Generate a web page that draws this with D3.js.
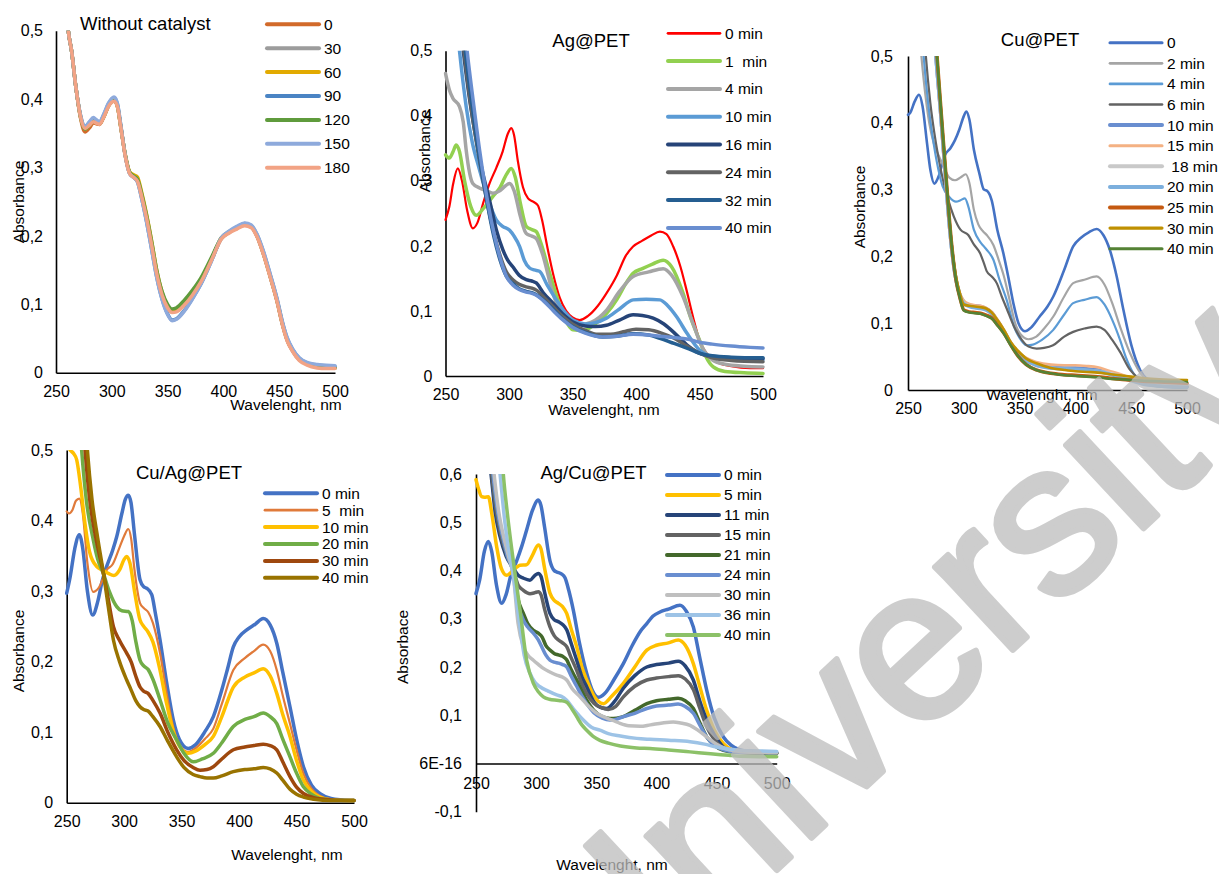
<!DOCTYPE html>
<html>
<head>
<meta charset="utf-8">
<script src="https://cdn.jsdelivr.net/npm/d3@7"></script>
<style>
  body { margin: 0; background: #fff; }
  svg { display: block; font-family: Arial, "Liberation Sans", sans-serif; }
  text { white-space: pre; }
</style>
</head>
<body>
<svg id="chart" width="1219" height="874"></svg>
<script>
// ---------- Without catalyst: absorbance vs wavelength (nm), series by time ----------
const noCatLabels = ["0", "30", "60", "90", "120", "150", "180"];
const noCat0 = [[258,0.56],[261,0.5],[264,0.47],[268,0.415],[272,0.372],[276,0.352],[280,0.358],[283.5,0.365],[286,0.364],[289,0.363],[293,0.375],[297,0.39],[302,0.398],[305,0.39],[308,0.36],[312,0.318],[316,0.292],[320,0.286],[323,0.281],[327,0.257],[331,0.228],[336,0.185],[340,0.148],[345,0.115],[350,0.096],[354,0.089],[358,0.09],[365,0.1],[372,0.114],[380,0.134],[390,0.168],[398,0.196],[405,0.205],[412,0.211],[419,0.216],[425,0.213],[430,0.2],[436,0.173],[442,0.14],[448,0.105],[453,0.07],[457,0.048],[462,0.032],[468,0.019],[475,0.013],[484,0.009],[492,0.008],[500,0.007]];
const noCat30 = [[258,0.56],[261,0.5],[264,0.47],[268,0.415],[272,0.374],[276,0.356],[280,0.362],[283.5,0.368],[286,0.366],[289,0.364],[293,0.375],[297,0.39],[302,0.398],[305,0.39],[308,0.36],[312,0.318],[316,0.292],[320,0.286],[323,0.281],[327,0.257],[331,0.228],[336,0.185],[340,0.148],[345,0.115],[350,0.096],[354,0.089],[358,0.09],[365,0.1],[372,0.114],[380,0.134],[390,0.168],[398,0.196],[405,0.205],[412,0.211],[419,0.216],[425,0.213],[430,0.2],[436,0.173],[442,0.14],[448,0.105],[453,0.07],[457,0.048],[462,0.032],[468,0.019],[475,0.013],[484,0.009],[492,0.008],[500,0.007]];
const noCat60 = [[258,0.56],[261,0.5],[264,0.47],[268,0.415],[272,0.374],[276,0.356],[280,0.362],[283.5,0.368],[286,0.366],[289,0.364],[293,0.375],[297,0.39],[302,0.398],[305,0.39],[308,0.36],[312,0.32],[316,0.294],[320,0.289],[323,0.286],[327,0.262],[331,0.233],[336,0.19],[340,0.152],[345,0.118],[350,0.097],[354,0.09],[358,0.091],[365,0.101],[372,0.115],[380,0.135],[390,0.169],[398,0.197],[405,0.206],[412,0.212],[419,0.217],[425,0.214],[430,0.201],[436,0.174],[442,0.141],[448,0.106],[453,0.071],[457,0.049],[462,0.033],[468,0.02],[475,0.013],[484,0.009],[492,0.008],[500,0.007]];
const noCat90 = [[258,0.56],[261,0.5],[264,0.47],[268,0.415],[272,0.376],[276,0.36],[280,0.366],[283.5,0.372],[286,0.369],[289,0.366],[293,0.378],[297,0.393],[302,0.402],[305,0.393],[308,0.362],[312,0.318],[316,0.291],[320,0.285],[323,0.279],[327,0.253],[331,0.222],[336,0.178],[340,0.142],[345,0.108],[350,0.086],[354,0.077],[358,0.079],[365,0.091],[372,0.108],[380,0.13],[390,0.166],[398,0.196],[405,0.206],[412,0.213],[419,0.218],[425,0.215],[430,0.202],[436,0.176],[442,0.143],[448,0.108],[453,0.073],[457,0.051],[462,0.034],[468,0.021],[475,0.014],[484,0.011],[492,0.01],[500,0.009]];
const noCat120 = [[258,0.56],[261,0.5],[264,0.47],[268,0.415],[272,0.374],[276,0.356],[280,0.362],[283.5,0.368],[286,0.366],[289,0.364],[293,0.375],[297,0.39],[302,0.398],[305,0.39],[308,0.36],[312,0.319],[316,0.293],[320,0.287],[323,0.283],[327,0.26],[331,0.231],[336,0.189],[340,0.152],[345,0.119],[350,0.1],[354,0.093],[358,0.095],[365,0.106],[372,0.12],[380,0.139],[390,0.171],[398,0.197],[405,0.206],[412,0.212],[419,0.217],[425,0.214],[430,0.201],[436,0.174],[442,0.141],[448,0.106],[453,0.071],[457,0.049],[462,0.033],[468,0.02],[475,0.013],[484,0.009],[492,0.008],[500,0.007]];
const noCat150 = [[258,0.56],[261,0.5],[264,0.47],[268,0.415],[272,0.376],[276,0.36],[280,0.367],[283.5,0.373],[286,0.37],[289,0.367],[293,0.379],[297,0.394],[302,0.403],[305,0.394],[308,0.363],[312,0.318],[316,0.291],[320,0.285],[323,0.279],[327,0.253],[331,0.222],[336,0.177],[340,0.141],[345,0.107],[350,0.085],[354,0.076],[358,0.078],[365,0.09],[372,0.107],[380,0.13],[390,0.166],[398,0.197],[405,0.207],[412,0.214],[419,0.219],[425,0.216],[430,0.203],[436,0.177],[442,0.144],[448,0.109],[453,0.074],[457,0.052],[462,0.035],[468,0.022],[475,0.015],[484,0.012],[492,0.011],[500,0.01]];
const noCat180 = [[258,0.56],[261,0.5],[264,0.47],[268,0.415],[272,0.374],[276,0.357],[280,0.362],[283.5,0.367],[286,0.365],[289,0.363],[293,0.374],[297,0.389],[302,0.397],[305,0.389],[308,0.359],[312,0.317],[316,0.291],[320,0.285],[323,0.28],[327,0.256],[331,0.227],[336,0.184],[340,0.147],[345,0.114],[350,0.095],[354,0.088],[358,0.089],[365,0.099],[372,0.113],[380,0.133],[390,0.167],[398,0.195],[405,0.204],[412,0.21],[419,0.215],[425,0.212],[430,0.199],[436,0.172],[442,0.139],[448,0.104],[453,0.069],[457,0.047],[462,0.031],[468,0.018],[475,0.011],[484,0.007],[492,0.006],[500,0.006]];

// ---------- Ag@PET ----------
const agLabels = ["0 min", "1  min", "4 min", "10 min", "16 min", "24 min", "32 min", "40 min"];
const ag0 = [[250,0.24],[253,0.26],[256,0.295],[259.7,0.319],[263,0.3],[267,0.255],[271.5,0.227],[275,0.235],[280,0.268],[284.7,0.296],[290,0.32],[295,0.345],[299,0.372],[301.8,0.381],[304,0.37],[307,0.33],[311,0.29],[315,0.273],[319,0.268],[322.8,0.262],[326,0.24],[330,0.2],[334.6,0.158],[340,0.12],[345,0.1],[350,0.09],[355.7,0.086],[362,0.092],[370,0.108],[376.7,0.127],[385,0.155],[392,0.185],[397.7,0.199],[405,0.208],[412,0.216],[418.8,0.222],[424,0.218],[429.3,0.199],[435,0.168],[439.8,0.132],[445,0.09],[450,0.055],[458,0.029],[465,0.02],[475,0.015],[490,0.012],[500,0.012]];
const ag1 = [[250,0.34],[253,0.335],[256,0.345],[258.4,0.355],[261,0.345],[265,0.3],[270,0.26],[274.2,0.247],[280,0.258],[287.3,0.276],[293,0.29],[298,0.31],[301.8,0.319],[305,0.305],[309,0.265],[313.6,0.23],[318,0.225],[321.5,0.222],[325,0.205],[332,0.158],[338,0.12],[344,0.088],[350.4,0.071],[358,0.07],[368,0.08],[376.7,0.096],[385,0.118],[392,0.142],[397.7,0.158],[405,0.165],[413,0.172],[421.4,0.178],[428,0.168],[437.1,0.127],[443,0.09],[450,0.055],[455,0.03],[460.8,0.014],[470,0.007],[485,0.005],[500,0.004]];
const ag4 = [[250,0.465],[253,0.44],[255.8,0.427],[261,0.414],[264,0.39],[266.3,0.347],[271.5,0.296],[276.8,0.289],[282,0.285],[287.3,0.281],[293,0.285],[297,0.292],[300.5,0.296],[304,0.285],[309,0.245],[313.6,0.219],[318,0.215],[321.5,0.211],[326,0.19],[334.6,0.127],[340,0.1],[346,0.085],[353,0.078],[365,0.083],[376.7,0.101],[387,0.13],[397.7,0.153],[410,0.16],[421.4,0.165],[428,0.155],[437,0.122],[445,0.08],[452,0.045],[460,0.025],[470,0.018],[485,0.015],[500,0.014]];
const ag10 = [[257,0.58],[261,0.5],[266.3,0.414],[271,0.36],[276.8,0.317],[283,0.275],[290,0.24],[295,0.23],[300.5,0.224],[304,0.215],[308.4,0.199],[312,0.178],[316.2,0.166],[320,0.163],[324,0.161],[330,0.14],[337.3,0.117],[344,0.098],[350.4,0.086],[360,0.08],[368,0.082],[376.7,0.089],[387,0.103],[397.7,0.117],[408,0.118],[418.8,0.117],[425,0.108],[432,0.091],[440,0.066],[450,0.04],[460,0.03],[475,0.027],[500,0.025]];
const ag16 = [[260,0.57],[264,0.5],[269,0.425],[274.2,0.363],[279,0.315],[284.7,0.27],[290,0.225],[295.2,0.194],[299,0.178],[303,0.168],[308,0.155],[313.6,0.148],[318,0.146],[321.5,0.143],[327,0.128],[334.6,0.112],[342,0.096],[350.4,0.083],[360,0.077],[368,0.076],[376.7,0.078],[387,0.086],[397.7,0.094],[405,0.093],[413.5,0.089],[422,0.08],[432,0.063],[440,0.048],[450,0.035],[460,0.03],[475,0.028],[500,0.027]];
const ag24 = [[260,0.58],[264.5,0.5],[270,0.415],[276,0.34],[282,0.275],[288,0.22],[293,0.185],[297.9,0.16],[303,0.148],[308,0.141],[313.6,0.137],[318,0.135],[321.5,0.132],[328,0.12],[335,0.106],[342,0.092],[350,0.08],[360,0.07],[370,0.064],[380,0.064],[390,0.068],[400,0.072],[410,0.071],[420,0.066],[430,0.058],[440,0.046],[450,0.035],[460,0.028],[475,0.024],[500,0.022]];
const ag32 = [[261,0.58],[265.5,0.5],[271,0.415],[276,0.345],[282,0.275],[288,0.215],[293,0.178],[298,0.153],[303,0.142],[308,0.134],[313.6,0.13],[318,0.128],[321.5,0.125],[328,0.115],[335,0.102],[342,0.088],[350,0.076],[360,0.067],[373.7,0.06],[385,0.061],[397.7,0.065],[410,0.063],[418.8,0.058],[430,0.05],[440,0.043],[450,0.035],[460,0.031],[475,0.029],[500,0.028]];
const ag40 = [[262,0.6],[267,0.5],[272,0.42],[277,0.345],[283,0.27],[289,0.212],[294,0.175],[298,0.153],[303,0.14],[308,0.133],[313.6,0.129],[318,0.127],[321.5,0.124],[328,0.114],[335,0.1],[342,0.087],[350,0.075],[360,0.066],[373.7,0.06],[385,0.061],[397.7,0.064],[410,0.063],[418.8,0.061],[430,0.059],[440,0.057],[450,0.052],[460,0.049],[475,0.046],[490,0.044],[500,0.043]];

// ---------- Cu@PET ----------
const cuLabels = ["0", "2 min", "4 min", "6 min", "10 min", "15 min", " 18 min", "20 min", "25 min", "30 min", "40 min"];
const cu0 = [[250,0.412],[252,0.415],[256,0.432],[259.9,0.442],[263,0.425],[267,0.37],[270,0.33],[273.6,0.309],[277,0.318],[283.2,0.352],[288,0.362],[292.1,0.374],[296,0.39],[300,0.41],[302.3,0.417],[305,0.405],[309,0.36],[314,0.324],[318,0.3],[321,0.298],[325,0.284],[330,0.24],[335.4,0.205],[340,0.168],[344.4,0.13],[349,0.1],[354.8,0.088],[360,0.093],[368,0.11],[375,0.125],[380.2,0.14],[390,0.18],[398,0.215],[405,0.228],[412,0.236],[419,0.241],[425,0.232],[431,0.209],[437,0.17],[443,0.12],[450,0.068],[458,0.03],[465,0.015],[475,0.008],[490,0.006],[500,0.005]];
const cu2 = [[259,0.57],[262,0.5],[265,0.45],[269,0.4],[273,0.37],[277.2,0.352],[282,0.335],[287,0.318],[292.1,0.314],[297,0.318],[301.7,0.323],[305,0.31],[309,0.27],[313,0.248],[317,0.238],[320.5,0.232],[326.5,0.217],[331,0.196],[336,0.17],[341,0.135],[346,0.1],[351,0.083],[357.8,0.076],[365,0.08],[372,0.092],[380.2,0.11],[390,0.14],[398,0.16],[408,0.165],[419,0.17],[426,0.158],[433,0.13],[440,0.095],[449,0.055],[458,0.026],[468,0.012],[480,0.008],[500,0.006]];
const cu4 = [[261,0.57],[264,0.5],[268,0.43],[272,0.38],[276,0.34],[281,0.305],[287,0.289],[293,0.282],[297,0.284],[301,0.287],[304,0.275],[309,0.24],[314.5,0.222],[318,0.215],[320.5,0.21],[326.5,0.195],[332,0.165],[338.4,0.135],[345,0.095],[350,0.078],[356.3,0.067],[362,0.068],[370,0.075],[380.2,0.09],[390,0.113],[398,0.13],[408,0.135],[419,0.139],[426,0.128],[433,0.105],[440,0.075],[445,0.05],[452,0.025],[460,0.012],[470,0.006],[485,0.004],[500,0.003]];
const cu6 = [[263,0.57],[266,0.5],[270,0.43],[275,0.37],[280,0.325],[286,0.285],[291,0.26],[297,0.24],[304,0.232],[309,0.218],[314.5,0.205],[318,0.19],[320.5,0.178],[325,0.17],[329.5,0.16],[334,0.14],[338.4,0.122],[345,0.095],[352,0.075],[358,0.065],[365.3,0.062],[372,0.063],[380,0.067],[390,0.08],[398,0.087],[408,0.092],[419,0.095],[426,0.09],[433,0.075],[440,0.057],[449,0.03],[458,0.016],[468,0.01],[485,0.008],[500,0.008]];
const cu10 = [[271,0.6],[275,0.5],[279,0.42],[284,0.31],[288,0.23],[292,0.175],[296,0.145],[300,0.132],[305,0.127],[310,0.126],[315,0.125],[320,0.122],[325,0.116],[330,0.104],[336,0.088],[342,0.07],[349,0.055],[356,0.045],[365,0.038],[378,0.034],[390,0.033],[400,0.033],[410,0.032],[420,0.03],[430,0.026],[440,0.022],[450,0.017],[460,0.012],[475,0.008],[500,0.005]];
const cu15 = [[271,0.6],[275,0.5],[279,0.42],[284,0.31],[288,0.23],[292,0.175],[296,0.147],[300,0.134],[305,0.129],[310,0.127],[315,0.126],[320,0.123],[325,0.117],[330,0.106],[336,0.09],[342,0.072],[349,0.057],[356,0.048],[365,0.042],[378,0.038],[390,0.037],[400,0.037],[410,0.036],[420,0.034],[430,0.029],[440,0.024],[450,0.018],[460,0.014],[475,0.011],[500,0.01]];
const cu18 = [[271,0.6],[275,0.5],[279,0.42],[284,0.31],[288,0.23],[292,0.174],[296,0.144],[300,0.13],[305,0.126],[310,0.124],[315,0.123],[320,0.12],[325,0.114],[330,0.103],[336,0.087],[342,0.069],[349,0.054],[356,0.044],[365,0.037],[378,0.033],[390,0.031],[400,0.03],[410,0.029],[420,0.028],[430,0.025],[440,0.021],[450,0.016],[460,0.012],[475,0.009],[500,0.008]];
const cu20 = [[271,0.6],[275,0.5],[279,0.42],[284,0.31],[288,0.23],[292,0.174],[296,0.144],[300,0.129],[305,0.125],[310,0.123],[315,0.122],[320,0.12],[325,0.114],[330,0.103],[336,0.087],[342,0.069],[349,0.054],[356,0.044],[365,0.037],[378,0.033],[390,0.032],[400,0.031],[410,0.03],[420,0.028],[430,0.024],[440,0.019],[450,0.014],[460,0.009],[475,0.006],[500,0.004]];
const cu25 = [[272,0.6],[276,0.5],[280,0.41],[285,0.3],[289,0.22],[293,0.165],[297,0.135],[300,0.12],[305,0.117],[310,0.116],[315,0.115],[320,0.112],[325,0.108],[330,0.098],[336,0.085],[342,0.068],[349,0.05],[356,0.038],[365,0.03],[378,0.025],[390,0.023],[400,0.022],[410,0.021],[420,0.02],[430,0.018],[440,0.016],[450,0.015],[460,0.013],[475,0.012],[500,0.01]];
const cu30 = [[272,0.6],[276,0.5],[280,0.41],[285,0.3],[289,0.22],[293,0.17],[297,0.142],[300,0.128],[305,0.126],[310,0.125],[315,0.124],[320,0.122],[325,0.116],[330,0.105],[336,0.09],[342,0.072],[349,0.058],[356,0.047],[365,0.04],[378,0.033],[390,0.03],[400,0.028],[410,0.027],[420,0.026],[430,0.024],[440,0.022],[450,0.02],[460,0.018],[475,0.016],[500,0.015]];
const cu40 = [[272,0.6],[276,0.5],[280,0.41],[285,0.3],[289,0.22],[293,0.165],[297,0.134],[300,0.119],[305,0.116],[310,0.115],[315,0.114],[320,0.111],[325,0.107],[330,0.097],[336,0.084],[342,0.067],[349,0.05],[356,0.038],[365,0.03],[378,0.025],[390,0.022],[400,0.021],[410,0.02],[420,0.019],[430,0.017],[440,0.016],[450,0.015],[460,0.014],[475,0.013],[500,0.012]];

// ---------- Cu/Ag@PET ----------
const cuAgLabels = ["0 min", "5  min", "10 min", "20 min", "30 min", "40 min"];
const cuAg0 = [[250,0.297],[253,0.32],[257,0.36],[261,0.38],[264,0.36],[268,0.3],[272.6,0.266],[277,0.285],[281,0.315],[284.8,0.335],[290,0.358],[293.5,0.377],[298,0.41],[301,0.43],[303.6,0.436],[306,0.425],[309,0.38],[313.8,0.316],[317,0.306],[319.6,0.304],[324,0.295],[327,0.27],[331.2,0.231],[337,0.17],[342.8,0.117],[348,0.09],[355.8,0.077],[362,0.082],[370,0.1],[377.6,0.122],[385,0.16],[390,0.19],[395,0.221],[400,0.235],[406.7,0.245],[414,0.253],[421,0.261],[427,0.252],[432.8,0.226],[438,0.185],[444.3,0.136],[450,0.09],[456,0.051],[463,0.025],[470.5,0.013],[480,0.006],[490,0.004],[500,0.003]];
const cuAg5 = [[250,0.413],[252,0.41],[255,0.415],[258,0.428],[261,0.431],[264,0.41],[268,0.34],[273,0.299],[278,0.305],[284.8,0.33],[290,0.338],[296,0.362],[300,0.378],[303.6,0.388],[306,0.375],[309,0.33],[313.8,0.283],[317,0.276],[321,0.27],[325,0.255],[331.2,0.212],[337,0.155],[343,0.105],[349,0.08],[355.8,0.072],[362,0.077],[370,0.09],[377.6,0.105],[385,0.14],[395,0.188],[405,0.205],[413,0.215],[421,0.224],[427,0.215],[432.8,0.188],[438,0.152],[444.3,0.112],[450,0.075],[456,0.041],[463,0.02],[470,0.01],[480,0.005],[500,0.003]];
const cuAg10 = [[250,0.51],[253,0.5],[256,0.495],[258.7,0.486],[262,0.45],[265.9,0.396],[270,0.355],[276,0.335],[281,0.33],[286.2,0.325],[291,0.322],[296,0.33],[300,0.345],[302.2,0.349],[305,0.34],[309,0.3],[313.8,0.259],[317,0.25],[320.8,0.242],[325,0.228],[331.2,0.188],[337,0.14],[343,0.1],[349,0.078],[355.8,0.07],[362,0.073],[370,0.082],[377.6,0.094],[385,0.122],[395,0.164],[405,0.178],[413,0.184],[421,0.19],[427,0.18],[432.8,0.155],[438,0.125],[444.3,0.094],[450,0.06],[456,0.032],[463,0.016],[470,0.008],[480,0.004],[500,0.003]];
const cuAg20 = [[259,0.6],[263,0.5],[267,0.43],[273.2,0.372],[277,0.345],[281.9,0.325],[287,0.3],[293.5,0.278],[298,0.272],[303.6,0.271],[307,0.258],[310,0.23],[313.8,0.202],[317,0.194],[320.8,0.189],[325,0.175],[331.2,0.146],[338,0.113],[345.7,0.089],[352,0.07],[360.2,0.058],[368,0.062],[377.6,0.07],[385,0.085],[395,0.108],[405,0.118],[413,0.122],[421,0.127],[427,0.122],[432.8,0.112],[438,0.09],[444.3,0.065],[450,0.042],[456,0.0225],[463,0.012],[470,0.006],[480,0.004],[500,0.003]];
const cuAg30 = [[262,0.6],[266,0.5],[270,0.43],[276,0.37],[281,0.333],[286,0.29],[290.6,0.25],[296,0.23],[302.2,0.212],[306,0.2],[310,0.18],[313.8,0.164],[317,0.158],[320.8,0.155],[325,0.145],[331.2,0.127],[338,0.1],[345.7,0.075],[352,0.06],[360,0.05],[366,0.046],[372,0.047],[377.6,0.051],[385,0.062],[395,0.075],[405,0.079],[413,0.081],[421,0.083],[427,0.081],[432.8,0.075],[438,0.058],[444.3,0.037],[450,0.022],[456,0.013],[465,0.007],[480,0.004],[500,0.003]];
const cuAg40 = [[264,0.6],[268,0.5],[272,0.43],[277,0.375],[282,0.325],[286,0.28],[290.6,0.231],[296,0.2],[302.2,0.174],[306,0.16],[310,0.145],[313.8,0.136],[317,0.132],[320.8,0.13],[325,0.122],[331.2,0.108],[338,0.087],[345.7,0.065],[352,0.05],[360,0.04],[366,0.037],[372,0.035],[377.6,0.035],[385,0.038],[395,0.044],[405,0.047],[413,0.048],[421,0.05],[427,0.048],[432.8,0.042],[438,0.032],[444.3,0.019],[450,0.012],[456,0.008],[465,0.005],[480,0.003],[500,0.003]];

// ---------- Ag/Cu@PET ----------
const agCuLabels = ["0 min", "5 min", "11 min", "15 min", "21 min", "24 min", "30 min", "36 min", "40 min"];
const agCu0 = [[250,0.352],[253,0.38],[257,0.44],[260.3,0.46],[263,0.44],[267,0.37],[271.3,0.332],[275,0.35],[279,0.39],[283.8,0.42],[288,0.45],[292.1,0.484],[297,0.525],[301.8,0.546],[304,0.535],[307,0.49],[311.5,0.42],[315,0.4],[317.1,0.397],[321,0.393],[324,0.385],[327,0.36],[330.9,0.318],[336,0.25],[342,0.187],[347,0.15],[351.7,0.137],[357,0.145],[365,0.175],[372.5,0.207],[380,0.245],[387,0.275],[392,0.29],[397,0.305],[403,0.314],[410,0.32],[419.6,0.328],[425,0.315],[430.7,0.283],[436,0.22],[441.8,0.152],[448,0.095],[455.7,0.055],[462,0.038],[469.5,0.028],[480,0.024],[490,0.023],[500,0.022]];
const agCu5 = [[250,0.588],[252,0.57],[254.7,0.553],[257,0.552],[260.3,0.553],[263,0.52],[267.2,0.449],[271,0.405],[275.5,0.39],[280,0.398],[286.6,0.411],[292,0.412],[297,0.432],[301.8,0.453],[304,0.445],[307,0.405],[311.5,0.353],[315,0.338],[318.5,0.332],[322,0.325],[325.4,0.311],[329,0.28],[333.7,0.242],[338,0.2],[342,0.173],[348,0.14],[355.9,0.124],[363,0.14],[372.5,0.166],[382,0.2],[392,0.235],[400,0.245],[410,0.25],[418.2,0.256],[424,0.245],[430.7,0.207],[436,0.16],[441.8,0.11],[448,0.07],[455.7,0.041],[463,0.028],[470,0.024],[485,0.022],[500,0.021]];
const agCu11 = [[258,0.7],[262.5,0.6],[266,0.52],[270,0.47],[275,0.43],[281,0.405],[285,0.39],[289.4,0.384],[294.9,0.38],[299,0.39],[301.8,0.394],[304,0.388],[307,0.355],[311.5,0.311],[315,0.298],[318.5,0.294],[322,0.288],[325.4,0.277],[329,0.25],[333.7,0.214],[338,0.18],[342,0.159],[348,0.128],[355,0.115],[358.6,0.114],[365,0.128],[372.5,0.156],[382,0.182],[392,0.2],[400,0.205],[410,0.208],[418.2,0.212],[424,0.202],[430.7,0.173],[436,0.13],[441.8,0.09],[448,0.06],[455.7,0.034],[463,0.026],[470,0.023],[485,0.022],[500,0.021]];
const agCu15 = [[259,0.7],[263,0.6],[267,0.52],[271,0.47],[276,0.43],[281,0.4],[285,0.37],[289.4,0.359],[294.9,0.352],[299,0.354],[301.8,0.356],[304,0.35],[307,0.32],[311.5,0.283],[315,0.265],[318.5,0.256],[322,0.25],[325.4,0.242],[329,0.22],[333.7,0.193],[338,0.165],[342,0.145],[348,0.125],[355,0.115],[360,0.112],[366,0.118],[372.5,0.138],[382,0.16],[392,0.173],[400,0.177],[410,0.18],[418.2,0.182],[424,0.175],[430.7,0.153],[436,0.115],[441.8,0.076],[448,0.05],[455.7,0.031],[463,0.025],[470,0.023],[485,0.022],[500,0.021]];
const agCu21 = [[260,0.7],[264,0.6],[268,0.52],[272,0.47],[276,0.43],[281,0.4],[285,0.34],[289.4,0.311],[293,0.29],[297.7,0.276],[301.8,0.27],[305,0.262],[308,0.245],[311.5,0.235],[315,0.228],[318.5,0.225],[322,0.222],[325.4,0.215],[329,0.195],[333.7,0.173],[338,0.15],[342,0.131],[348,0.11],[355,0.097],[361.4,0.093],[367,0.094],[372.5,0.097],[382,0.11],[392,0.124],[400,0.13],[410,0.133],[418,0.135],[424,0.13],[430.7,0.114],[436,0.085],[441.8,0.055],[448,0.038],[455.7,0.027],[465,0.023],[480,0.022],[500,0.021]];
const agCu24 = [[260,0.7],[264,0.6],[268,0.52],[272,0.47],[276,0.43],[281,0.395],[285,0.33],[289.4,0.297],[293,0.283],[297.7,0.27],[301.8,0.256],[305,0.24],[308,0.225],[311.5,0.214],[315,0.21],[318.5,0.208],[322,0.205],[325.4,0.2],[329,0.182],[333.7,0.16],[338,0.14],[342,0.124],[348,0.105],[355,0.094],[361.4,0.09],[367,0.092],[372.5,0.097],[382,0.104],[392,0.114],[400,0.119],[410,0.121],[418,0.123],[424,0.118],[430.7,0.104],[436,0.08],[441.8,0.055],[448,0.038],[455.7,0.028],[465,0.024],[480,0.023],[500,0.022]];
const agCu30 = [[261,0.7],[265,0.6],[269,0.52],[273,0.47],[277,0.43],[281,0.39],[285,0.29],[289.4,0.242],[293,0.225],[297.7,0.214],[302,0.205],[306,0.197],[311,0.19],[317.1,0.183],[321,0.18],[325.4,0.173],[330,0.155],[336.5,0.138],[343,0.12],[350.3,0.104],[358.7,0.094],[365,0.088],[369.7,0.083],[377,0.078],[386.4,0.077],[395,0.08],[405,0.084],[414,0.086],[420,0.084],[428,0.079],[435,0.068],[441.8,0.055],[450,0.04],[458.5,0.03],[470,0.025],[485,0.023],[500,0.022]];
const agCu36 = [[266,0.7],[270,0.6],[274,0.5],[278,0.43],[281,0.39],[284,0.33],[286.6,0.283],[290,0.225],[294.9,0.187],[299,0.168],[303.2,0.159],[310,0.15],[317.1,0.142],[321,0.139],[325.4,0.131],[332,0.11],[339.2,0.09],[346,0.075],[353,0.069],[360,0.062],[370,0.057],[383.6,0.052],[394.7,0.05],[410,0.048],[428,0.045],[440,0.04],[450,0.034],[460,0.03],[470,0.027],[485,0.026],[500,0.025]];
const agCu40 = [[270,0.7],[272.7,0.6],[276,0.52],[281,0.42],[286.6,0.318],[292.1,0.214],[297.7,0.166],[302,0.148],[306,0.138],[311,0.133],[317.1,0.131],[321,0.13],[325.4,0.127],[330,0.112],[333.7,0.097],[338,0.08],[342,0.069],[348,0.055],[353,0.048],[360,0.042],[370,0.036],[383.6,0.032],[394.7,0.031],[410,0.028],[428,0.024],[445,0.02],[460,0.017],[469.5,0.015],[485,0.014],[500,0.014]];

// Shared axis ticks
const wavelengthTicks = [250, 300, 350, 400, 450, 500];
const absTicks05 = [0, 0.1, 0.2, 0.3, 0.4, 0.5];
const absTicks06 = [-0.1, 0, 0.1, 0.2, 0.3, 0.4, 0.5, 0.6];

// ---------- panel layouts ----------
const panels = [
  {
    id: "nocat", title: "Without catalyst", titleX: 80, titleY: 24, titleAnchor: "start",
    x0: 56, x1: 335, yTop: 30.7, yBottom: 372.7, yDomain: [0, 0.5], yTicks: absTicks05,
    yPad: 13, xPad: 13, yTitle: "Absorbance", yTitleX: 19, yTitleY: 202,
    xTitleX: 286, xTitleY: 405,
    legendX: 267, legendY: 24.3, legendStep: 23.9,
    labels: noCatLabels,
    values: [noCat0, noCat30, noCat60, noCat90, noCat120, noCat150, noCat180],
    colors: ["#d26a2a", "#9c9c9c", "#e2aa00", "#4a84c4", "#5f9b3c", "#8eaadc", "#f2a385"],
    widths: [3.5, 3.5, 3.5, 3.5, 3.5, 3.5, 3.5]
  },
  {
    id: "ag", title: "Ag@PET", titleX: 591, titleY: 40.7, titleAnchor: "middle",
    x0: 445.5, x1: 763, yTop: 50.7, yBottom: 376, yDomain: [0, 0.5], yTicks: absTicks05,
    yPad: 13, xPad: 13, yTitle: "Absorbance", yTitleX: 425, yTitleY: 151,
    xTitleX: 604, xTitleY: 410,
    legendX: 668, legendY: 33.3, legendStep: 27.8,
    labels: agLabels,
    values: [ag0, ag1, ag4, ag10, ag16, ag24, ag32, ag40],
    colors: ["#ff0000", "#92d050", "#a5a5a5", "#5b9bd5", "#264478", "#636363", "#255e91", "#698ed0"],
    widths: [2.2, 3.5, 3.5, 3.5, 3.5, 3.5, 3.5, 3.5]
  },
  {
    id: "cu", title: "Cu@PET", titleX: 1040, titleY: 40, titleAnchor: "middle",
    x0: 908, x1: 1187, yTop: 56, yBottom: 390, yDomain: [0, 0.5], yTicks: absTicks05,
    yPad: 15, xPad: 13, yTitle: "Absorbance", yTitleX: 860, yTitleY: 207,
    xTitleX: 1042, xTitleY: 395,
    legendX: 1110, legendY: 42.7, legendStep: 20.6,
    labels: cuLabels,
    values: [cu0, cu2, cu4, cu6, cu10, cu15, cu18, cu20, cu25, cu30, cu40],
    colors: ["#4472c4", "#a5a5a5", "#5b9bd5", "#636363", "#698ed0", "#f4b183", "#c9c9c9", "#7cafdd", "#c55a11", "#bf9000", "#548235"],
    widths: [2.6, 2.2, 2.2, 2.2, 3.5, 2.6, 3.5, 3.5, 3.5, 2.6, 2.6]
  },
  {
    id: "cuag", title: "Cu/Ag@PET", titleX: 189, titleY: 472.7, titleAnchor: "middle",
    x0: 66.7, x1: 354, yTop: 450, yBottom: 802.7, yDomain: [0, 0.5], yTicks: absTicks05,
    yPad: 13.5, xPad: 13, yTitle: "Absorbance", yTitleX: 19, yTitleY: 651,
    xTitleX: 287, xTitleY: 855,
    legendX: 265, legendY: 493.3, legendStep: 16.9,
    labels: cuAgLabels,
    values: [cuAg0, cuAg5, cuAg10, cuAg20, cuAg30, cuAg40],
    colors: ["#4472c4", "#e07a3a", "#ffc000", "#70ad47", "#9e480e", "#997300"],
    widths: [3.5, 2.2, 3.5, 3.5, 3.5, 3.5]
  },
  {
    id: "agcu", title: "Ag/Cu@PET", titleX: 593.5, titleY: 473, titleAnchor: "middle",
    x0: 476, x1: 776.7, yTop: 474, yBottom: 811.7, yDomain: [-0.1, 0.6], yTicks: absTicks06,
    yPad: 14, xPad: 14, yTitle: "Absorbace", yTitleX: 403, yTitleY: 647,
    xTitleX: 612, xTitleY: 865, zeroLabel: "6E-16",
    legendX: 667, legendY: 475, legendStep: 20,
    labels: agCuLabels,
    values: [agCu0, agCu5, agCu11, agCu15, agCu21, agCu24, agCu30, agCu36, agCu40],
    colors: ["#4472c4", "#ffc000", "#264478", "#636363", "#43682b", "#698ed0", "#bfbfbf", "#9dc3e6", "#8cc168"],
    widths: [3.5, 3.5, 3.5, 3.5, 3.5, 3.5, 3.5, 3.5, 3.5]
  }
];

const svg = d3.select("#chart");
svg.append("rect").attr("width", 1219).attr("height", 874).attr("fill", "#fff");
const defs = svg.append("defs");

function drawPanel(p) {
  const x = d3.scaleLinear().domain([250, 500]).range([p.x0, p.x1]);
  const y = d3.scaleLinear().domain(p.yDomain).range([p.yBottom, p.yTop]);
  const g = svg.append("g").attr("class", "panel-" + p.id);

  const fmt = v => {
    if (Math.abs(v) < 1e-9) return p.zeroLabel || "0";
    return d3.format(".1f")(v).replace(".", ",").replace("−", "-");
  };

  // y axis
  const yAxis = g.append("g").attr("transform", `translate(${p.x0},0)`)
    .call(d3.axisLeft(y).tickValues(p.yTicks).tickSize(0).tickPadding(p.yPad).tickFormat(fmt));
  // x axis sits at absorbance 0
  const xAxis = g.append("g").attr("transform", `translate(0,${y(0)})`)
    .call(d3.axisBottom(x).tickValues(wavelengthTicks).tickSize(0).tickPadding(p.xPad).tickFormat(d3.format("d")));
  [yAxis, xAxis].forEach(a => {
    a.select(".domain").attr("stroke", "#000").attr("stroke-width", 1.6);
    a.selectAll("text").attr("font-size", 16).attr("fill", "#000")
      .attr("font-family", "Arial, 'Liberation Sans', sans-serif");
  });

  // spectra, clipped to plot area
  const clipId = "clip-" + p.id;
  defs.append("clipPath").attr("id", clipId).append("rect")
    .attr("x", p.x0 - 2).attr("y", p.yTop)
    .attr("width", p.x1 - p.x0 + 6).attr("height", p.yBottom - p.yTop + 2);
  const line = d3.line().x(d => x(d[0])).y(d => y(d[1])).curve(d3.curveMonotoneX);
  const lines = g.append("g").attr("clip-path", `url(#${clipId})`);
  p.values.forEach((vals, i) => {
    lines.append("path").attr("d", line(vals)).attr("fill", "none")
      .attr("stroke", p.colors[i]).attr("stroke-width", p.widths[i])
      .attr("stroke-linejoin", "round").attr("stroke-linecap", "round");
  });

  // title
  g.append("text").attr("x", p.titleX).attr("y", p.titleY).attr("dy", "0.35em")
    .attr("text-anchor", p.titleAnchor).attr("font-size", 18.5).attr("fill", "#000").text(p.title);

  // axis titles
  g.append("text").attr("transform", `translate(${p.yTitleX},${p.yTitleY}) rotate(-90)`)
    .attr("dy", "0.35em").attr("text-anchor", "middle").attr("font-size", 15.5).attr("fill", "#000")
    .text(p.yTitle);
  g.append("text").attr("x", p.xTitleX).attr("y", p.xTitleY).attr("dy", "0.35em")
    .attr("text-anchor", "middle").attr("font-size", 15.5).attr("fill", "#000").text("Wavelenght, nm");

  // legend
  const lg = g.append("g");
  p.labels.forEach((lab, i) => {
    const ly = p.legendY + i * p.legendStep;
    lg.append("line").attr("x1", p.legendX).attr("x2", p.legendX + 52)
      .attr("y1", ly).attr("y2", ly).attr("stroke", p.colors[i])
      .attr("stroke-width", p.widths[i] + 0.5).attr("stroke-linecap", "round");
    lg.append("text").attr("x", p.legendX + 57).attr("y", ly).attr("dy", "0.35em")
      .attr("font-size", 15.5).attr("fill", "#000").text(lab);
  });
}

panels.forEach(drawPanel);

// watermark, drawn over everything as one translucent layer
svg.append("g").attr("opacity", 0.75)
  .append("text")
  .attr("transform", "translate(600,1035) rotate(-43)")
  .attr("font-size", 215).attr("font-family", "Arial, 'Liberation Sans', sans-serif")
  .attr("fill", "#bdbdbd").attr("stroke", "#bdbdbd").attr("stroke-width", 6)
  .attr("stroke-linejoin", "round")
  .text("University");
</script>
</body>
</html>
